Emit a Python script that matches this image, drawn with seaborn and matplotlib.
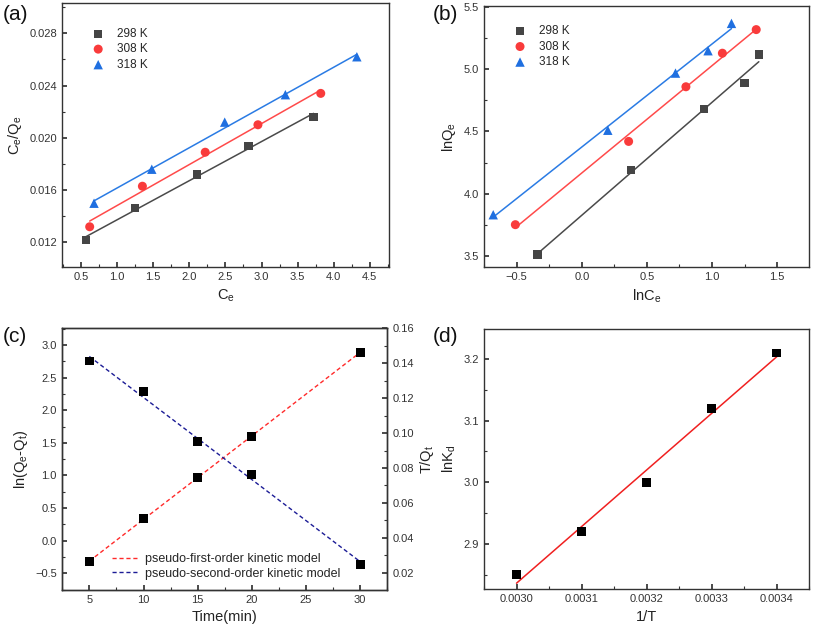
import numpy as np
import pandas as pd
import matplotlib
matplotlib.use("Agg")
import matplotlib.pyplot as plt
from matplotlib.ticker import AutoMinorLocator, MultipleLocator, FormatStrFormatter
import seaborn as sns

# (a) Langmuir: Ce vs Ce/Qe
temps = ["298 K", "308 K", "318 K"]
ce_a = {
    "298 K": [0.57, 1.25, 2.10, 2.82, 3.72],
    "308 K": [0.62, 1.35, 2.22, 2.95, 3.82],
    "318 K": [0.68, 1.48, 2.49, 3.33, 4.32],
}
ceqe_a = {
    "298 K": [0.0122, 0.0146, 0.0172, 0.0194, 0.0216],
    "308 K": [0.0132, 0.0163, 0.0189, 0.0210, 0.0234],
    "318 K": [0.0150, 0.0176, 0.0212, 0.0233, 0.0262],
}

# (b) Freundlich: lnCe vs lnQe
lnce_b = {
    "298 K": [-0.34, 0.38, 0.94, 1.25, 1.36],
    "308 K": [-0.51, 0.36, 0.80, 1.08, 1.34],
    "318 K": [-0.68, 0.20, 0.72, 0.97, 1.15],
}
lnqe_b = {
    "298 K": [3.51, 4.19, 4.68, 4.89, 5.12],
    "308 K": [3.75, 4.42, 4.86, 5.13, 5.32],
    "318 K": [3.83, 4.51, 4.97, 5.15, 5.37],
}

# (c) kinetics
time_c = [5, 10, 15, 20, 30]
ln_qe_qt = [-0.32, 0.34, 0.965, 1.60, 2.89]
t_qt = [0.1413, 0.1236, 0.095, 0.0762, 0.0247]

# (d) van't Hoff
inv_t = [0.0030, 0.0031, 0.0032, 0.0033, 0.0034]
ln_kd = [2.85, 2.92, 3.00, 3.12, 3.21]

colors = {"298 K": "#454545", "308 K": "#f93b3b", "318 K": "#1f6fe0"}
lcolors = {"298 K": "#4a4a4a", "308 K": "#ff4a4a", "318 K": "#2a7be4"}
markers = {"298 K": "s", "308 K": "o", "318 K": "^"}
msize = {"298 K": 34, "308 K": 42, "318 K": 46}

sns.set_theme(style="ticks")
plt.rcParams.update({
    "font.family": ["Liberation Sans", "DejaVu Sans"],
    "mathtext.default": "regular",
    "xtick.direction": "in",
    "ytick.direction": "in",
    "axes.edgecolor": "#333333",
    "axes.linewidth": 1.0,
    "xtick.color": "#333333",
    "ytick.color": "#333333",
    "xtick.labelsize": 8,
    "ytick.labelsize": 8,
    "axes.labelsize": 10.5,
    "axes.labelcolor": "#222222",
    "xtick.major.size": 3.5,
    "ytick.major.size": 3.5,
    "xtick.minor.size": 2.5,
    "ytick.minor.size": 2.5,
    "xtick.minor.width": 0.8,
    "ytick.minor.width": 0.8,
})

fig = plt.figure(figsize=(8.13, 6.31), dpi=100)
ax_a = fig.add_axes([0.0763, 0.5764, 0.4026, 0.4186])
ax_b = fig.add_axes([0.5953, 0.5764, 0.4002, 0.4141])
ax_c = fig.add_axes([0.0759, 0.0650, 0.4005, 0.4147])
ax_d = fig.add_axes([0.5953, 0.0660, 0.4002, 0.4126])


def finish(ax):
    ax.xaxis.set_minor_locator(AutoMinorLocator(2))
    ax.yaxis.set_minor_locator(AutoMinorLocator(2))
    for s in ax.spines.values():
        s.set_visible(True)


# ---- (a)
for t in temps:
    df = pd.DataFrame({"x": ce_a[t], "y": ceqe_a[t]})
    sns.regplot(data=df, x="x", y="y", ax=ax_a, scatter=False, ci=None,
                color=lcolors[t], line_kws={"lw": 1.1})
    sns.scatterplot(data=df, x="x", y="y", ax=ax_a, marker=markers[t],
                    color=colors[t], s=msize[t], edgecolor="none", label=t, zorder=3)
ax_a.set_xlim(0.237, 4.77)
ax_a.set_ylim(0.0101, 0.0303)
ax_a.xaxis.set_major_locator(MultipleLocator(0.5))
ax_a.yaxis.set_major_locator(MultipleLocator(0.004))
ax_a.yaxis.set_major_formatter(FormatStrFormatter("%.3f"))
ax_a.set_xlabel("C$_e$")
ax_a.set_ylabel("C$_e$/Q$_e$")
ax_a.legend(loc="upper left", bbox_to_anchor=(0.06, 0.925), frameon=False,
            fontsize=8.5, handletextpad=0.6, labelspacing=0.3, borderaxespad=0)
finish(ax_a)

# ---- (b)
for t in temps:
    df = pd.DataFrame({"x": lnce_b[t], "y": lnqe_b[t]})
    sns.regplot(data=df, x="x", y="y", ax=ax_b, scatter=False, ci=None,
                color=lcolors[t], line_kws={"lw": 1.1})
    sns.scatterplot(data=df, x="x", y="y", ax=ax_b, marker=markers[t],
                    color=colors[t], s=msize[t], edgecolor="none", label=t, zorder=3)
ax_b.set_xlim(-0.751, 1.748)
ax_b.set_ylim(3.407, 5.51)
ax_b.xaxis.set_major_locator(MultipleLocator(0.5))
ax_b.yaxis.set_major_locator(MultipleLocator(0.5))
ax_b.set_xlabel("lnC$_e$")
ax_b.set_ylabel("lnQ$_e$")
ax_b.legend(loc="upper left", bbox_to_anchor=(0.06, 0.945), frameon=False,
            fontsize=8.5, handletextpad=0.6, labelspacing=0.3, borderaxespad=0)
finish(ax_b)

# ---- (c)
ax_c2 = ax_c.twinx()
df1 = pd.DataFrame({"x": time_c, "y": ln_qe_qt})
df2 = pd.DataFrame({"x": time_c, "y": t_qt})
sns.regplot(data=df1, x="x", y="y", ax=ax_c, scatter=False, ci=None,
            color="#ff2a2a", line_kws={"lw": 1.0, "ls": (0, (3, 2))},
            label="pseudo-first-order kinetic model")
sns.regplot(data=df2, x="x", y="y", ax=ax_c2, scatter=False, ci=None,
            color="#1c1c96", line_kws={"lw": 1.0, "ls": (0, (3, 2))},
            label="pseudo-second-order kinetic model")
sns.scatterplot(data=df1, x="x", y="y", ax=ax_c, marker="s", color="black",
                s=40, edgecolor="none", zorder=3, legend=False)
sns.scatterplot(data=df2, x="x", y="y", ax=ax_c2, marker="s", color="black",
                s=40, edgecolor="none", zorder=3, legend=False)
if ax_c2.get_legend() is not None:
    ax_c2.get_legend().remove()
ax_c.set_xlim(2.45, 32.5)
ax_c.set_ylim(-0.756, 3.256)
ax_c2.set_ylim(0.0101, 0.16)
ax_c.xaxis.set_major_locator(MultipleLocator(5))
ax_c.yaxis.set_major_locator(MultipleLocator(0.5))
ax_c2.yaxis.set_major_locator(MultipleLocator(0.02))
ax_c2.yaxis.set_major_formatter(FormatStrFormatter("%.2f"))
ax_c2.yaxis.set_minor_locator(AutoMinorLocator(2))
ax_c.set_xlabel("Time(min)")
ax_c.set_ylabel("ln(Q$_e$-Q$_t$)")
ax_c2.set_ylabel("T/Q$_t$", labelpad=3)
h1, l1 = ax_c.get_legend_handles_labels()
h2, l2 = ax_c2.get_legend_handles_labels()
ax_c.legend(h1 + h2, l1 + l2, loc="lower left", bbox_to_anchor=(0.14, 0.02),
            frameon=False, fontsize=9, handlelength=2.0, handletextpad=0.6,
            labelspacing=0.2, borderaxespad=0)
finish(ax_c)

# ---- (d)
df4 = pd.DataFrame({"x": inv_t, "y": ln_kd})
sns.regplot(data=df4, x="x", y="y", ax=ax_d, scatter=False, ci=None,
            color="#f02020", line_kws={"lw": 1.1})
sns.scatterplot(data=df4, x="x", y="y", ax=ax_d, marker="s", color="black",
                s=40, edgecolor="none", zorder=3)
ax_d.set_xlim(0.00295, 0.00345)
ax_d.set_ylim(2.826, 3.249)
ax_d.xaxis.set_major_locator(MultipleLocator(0.0001))
ax_d.xaxis.set_major_formatter(FormatStrFormatter("%.4f"))
ax_d.yaxis.set_major_locator(MultipleLocator(0.1))
ax_d.set_xlabel("1/T")
ax_d.set_ylabel("lnK$_d$")
finish(ax_d)

for lbl, x, y in [("(a)", 0.003, 0.992), ("(b)", 0.532, 0.992),
                  ("(c)", 0.003, 0.482), ("(d)", 0.532, 0.482)]:
    fig.text(x, y, lbl, fontsize=15, va="top", ha="left", color="#111111")

fig.savefig("out.png", dpi=100)
